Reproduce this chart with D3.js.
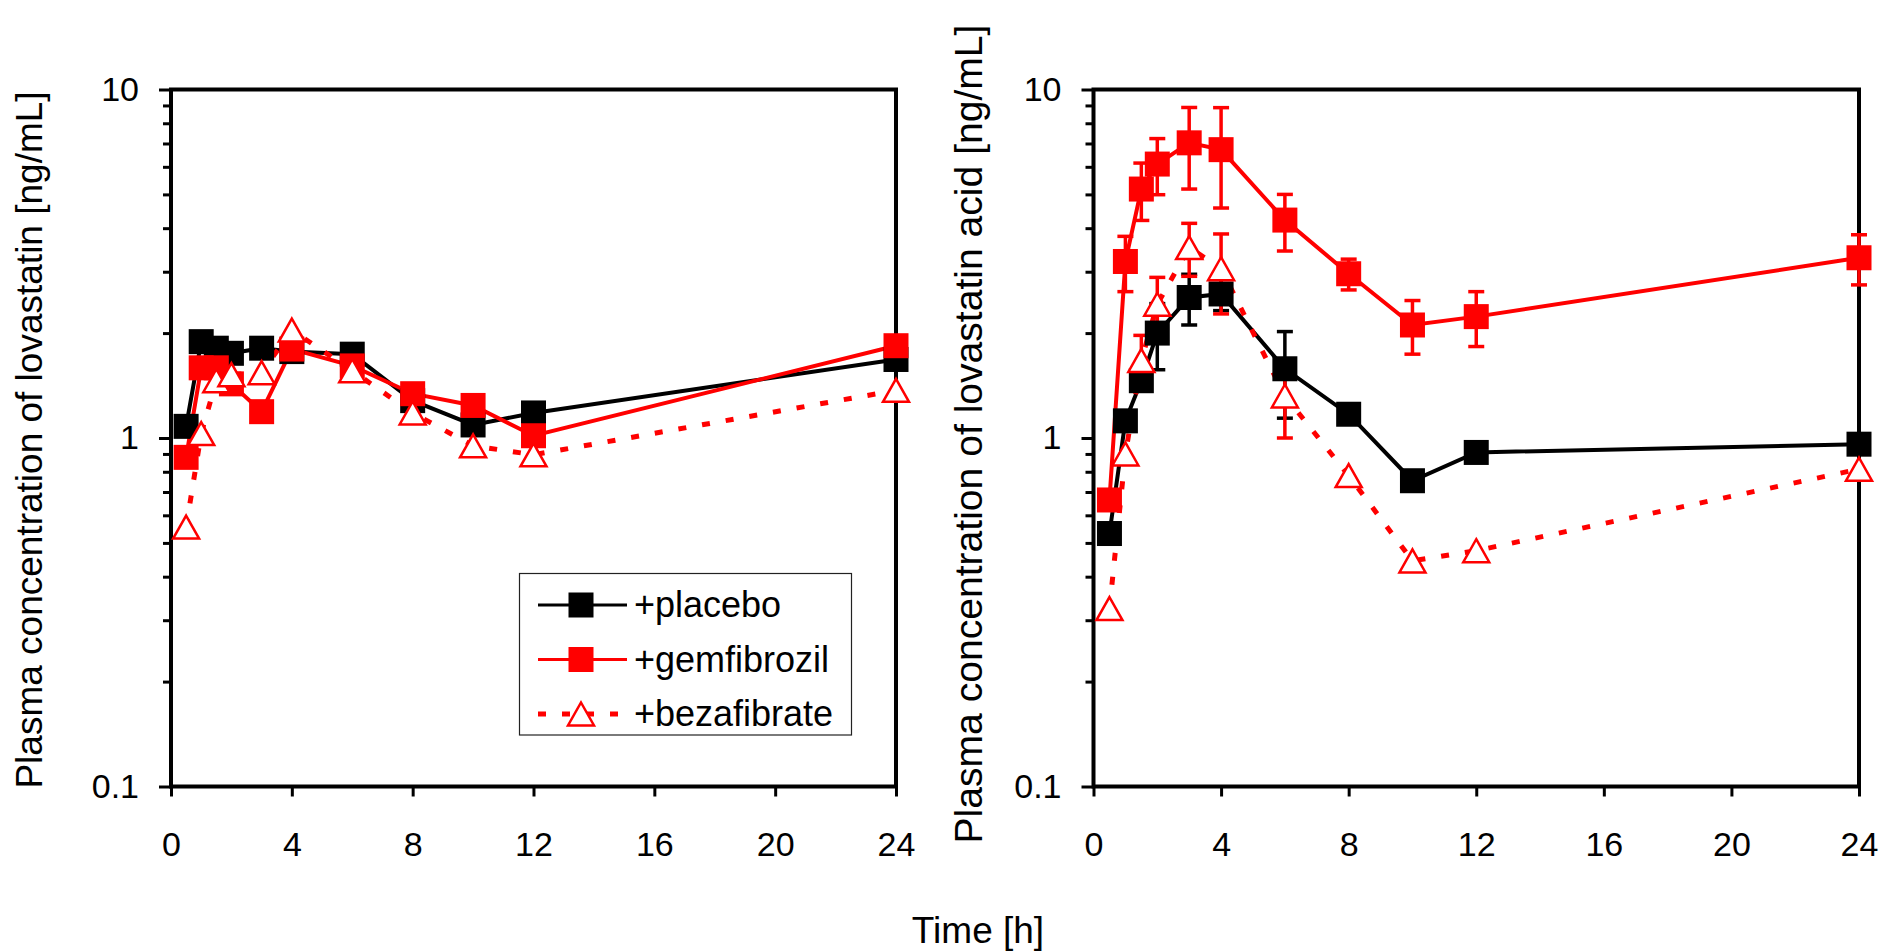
<!DOCTYPE html>
<html>
<head>
<meta charset="utf-8">
<script src="https://cdn.jsdelivr.net/npm/d3@7"></script>
<style>
  body { margin: 0; background: #fff; }
  svg { display: block; font-family: Arial, "Liberation Sans", sans-serif; }
</style>
</head>
<body>
<div class="container"></div>
<script>
const width = 1884;
const height = 951;

// sampling times [h]
const times = [0.5, 1, 1.5, 2, 3, 4, 6, 8, 10, 12, 24];
const xTicks = [0, 4, 8, 12, 16, 20, 24];
const yMajor = [0.1, 1, 10];
const seriesNames = ["+placebo", "+gemfibrozil", "+bezafibrate"];

// lovastatin [ng/mL]
const lovaPlacebo     = [1.08, 1.89, 1.81, 1.75, 1.81, 1.77, 1.74, 1.28, 1.09, 1.18, 1.68];
const lovaGemfibrozil = [0.88, 1.59, 1.59, 1.43, 1.19, 1.80, 1.61, 1.34, 1.24, 1.015, 1.84];
const lovaBezafibrate = [0.555, 1.03, 1.46, 1.52, 1.54, 2.04, 1.56, 1.18, 0.95, 0.895, 1.37];

// lovastatin acid [ng/mL] and SD (0 = no bar drawn)
const acidPlacebo       = [0.532, 1.12, 1.46, 2.0, 2.53, 2.59, 1.58, 1.17, 0.754, 0.909, 0.96];
const acidPlaceboSD     = [0, 0, 0, 0.43, 0.42, 0.27, 0.44, 0, 0, 0, 0];
const acidGemfibrozil   = [0.664, 3.21, 5.18, 6.11, 7.03, 6.72, 4.22, 2.96, 2.11, 2.23, 3.29];
const acidGemfibrozilSD = [0, 0.58, 0.97, 1.12, 1.85, 2.15, 0.78, 0.3, 0.37, 0.4, 0.54];
const acidBezafibrate   = [0.324, 0.90, 1.67, 2.42, 3.52, 3.06, 1.32, 0.78, 0.444, 0.475, 0.814];
const acidBezafibrateSD = [0, 0, 0.30, 0.47, 0.61, 0.79, 0.32, 0, 0, 0, 0];

const styles = [
  { color: "#000", dash: null, marker: "square" },
  { color: "#ff0000", dash: null, marker: "square" },
  { color: "#ff0000", dash: "8,16", marker: "triangle" }
];

const panels = [
  {
    left: 171, right: 896, top: 89.5, bottom: 786.5,
    title: "Plasma concentration of lovastatin [ng/mL]",
    titleX: 42, titleY: 440, titleSize: 37,
    series: [lovaPlacebo, lovaGemfibrozil, lovaBezafibrate],
    sd: [null, null, null],
    legend: true
  },
  {
    left: 1093.5, right: 1859, top: 89.5, bottom: 786.5,
    title: "Plasma concentration of lovastatin acid [ng/mL]",
    titleX: 982, titleY: 434, titleSize: 39.1,
    series: [acidPlacebo, acidGemfibrozil, acidBezafibrate],
    sd: [acidPlaceboSD, acidGemfibrozilSD, acidBezafibrateSD],
    legend: false
  }
];

const svg = d3.select(".container")
  .append("svg")
  .attr("width", width)
  .attr("height", height);

svg.append("rect").attr("width", width).attr("height", height).attr("fill", "#fff");

const triangle = "M0,-11.5L13,11.5L-13,11.5Z";

const drawMarker = (g, style, x, y) => {
  if (style.marker === "square") {
    g.append("rect")
      .attr("x", x - 12.5).attr("y", y - 12.5)
      .attr("width", 25).attr("height", 25)
      .attr("fill", style.color);
  } else {
    g.append("path")
      .attr("d", triangle)
      .attr("transform", `translate(${x},${y})`)
      .attr("fill", "#fff")
      .attr("stroke", style.color)
      .attr("stroke-width", 2.5);
  }
};

panels.forEach(p => {
  const x = d3.scaleLinear().domain([0, 24]).range([p.left, p.right]);
  const y = d3.scaleLog().domain([0.1, 10]).range([p.bottom, p.top]);

  const g = svg.append("g");

  // minor log ticks
  const minor = [];
  [0.1, 1].forEach(d => { for (let k = 2; k <= 9; k++) minor.push(d * k); });

  g.append("g")
    .attr("transform", `translate(${p.left},0)`)
    .call(d3.axisLeft(y).tickValues(minor).tickSize(8).tickFormat(""))
    .call(a => a.select(".domain").remove())
    .call(a => a.selectAll("line").attr("stroke-width", 3));

  g.append("g")
    .attr("transform", `translate(${p.left},0)`)
    .call(d3.axisLeft(y).tickValues(yMajor).tickSize(12).tickPadding(20).tickFormat(d => d))
    .call(a => a.select(".domain").remove())
    .call(a => a.selectAll("line").attr("stroke-width", 3))
    .call(a => a.selectAll("text").attr("font-size", 34).attr("font-family", null).attr("fill", "#000"));

  g.append("g")
    .attr("transform", `translate(0,${p.bottom})`)
    .call(d3.axisBottom(x).tickValues(xTicks).tickSize(10).tickPadding(35))
    .call(a => a.select(".domain").remove())
    .call(a => a.selectAll("line").attr("stroke-width", 3))
    .call(a => a.selectAll("text").attr("font-size", 34).attr("font-family", null).attr("fill", "#000"));

  // frame
  g.append("rect")
    .attr("x", p.left).attr("y", p.top)
    .attr("width", p.right - p.left).attr("height", p.bottom - p.top)
    .attr("fill", "none").attr("stroke", "#000").attr("stroke-width", 4);

  g.append("text")
    .attr("transform", `translate(${p.titleX},${p.titleY}) rotate(-90)`)
    .attr("text-anchor", "middle")
    .attr("font-size", p.titleSize)
    .text(p.title);

  // error bars
  p.series.forEach((vals, i) => {
    const sd = p.sd[i];
    if (!sd) return;
    const bars = g.append("g").attr("stroke", styles[i].color).attr("stroke-width", 3.5);
    times.forEach((t, j) => {
      if (!sd[j]) return;
      const cx = x(t), y0 = y(vals[j] - sd[j]), y1 = y(vals[j] + sd[j]);
      bars.append("line").attr("x1", cx).attr("x2", cx).attr("y1", y0).attr("y2", y1);
      bars.append("line").attr("x1", cx - 8).attr("x2", cx + 8).attr("y1", y0).attr("y2", y0);
      bars.append("line").attr("x1", cx - 8).attr("x2", cx + 8).attr("y1", y1).attr("y2", y1);
    });
  });

  const line = d3.line().x((d, j) => x(times[j])).y(d => y(d));

  p.series.forEach((vals, i) => {
    g.append("path")
      .attr("d", line(vals))
      .attr("fill", "none")
      .attr("stroke", styles[i].color)
      .attr("stroke-width", styles[i].dash ? 5 : 4)
      .attr("stroke-dasharray", styles[i].dash);
  });

  p.series.forEach((vals, i) => {
    const mg = g.append("g");
    vals.forEach((v, j) => drawMarker(mg, styles[i], x(times[j]), y(v)));
  });

  if (p.legend) {
    const lg = svg.append("g");
    lg.append("rect")
      .attr("x", 519.5).attr("y", 573.5).attr("width", 332).attr("height", 161.5)
      .attr("fill", "#fff").attr("stroke", "#222").attr("stroke-width", 1.2);
    seriesNames.forEach((name, i) => {
      const cy = 605 + i * 54.5;
      lg.append("line")
        .attr("x1", 538).attr("x2", 627).attr("y1", cy).attr("y2", cy)
        .attr("stroke", styles[i].color).attr("stroke-width", styles[i].dash ? 5 : 3)
        .attr("stroke-dasharray", styles[i].dash);
      drawMarker(lg, styles[i], 581, cy);
      lg.append("text")
        .attr("x", 634).attr("y", cy + 12)
        .attr("font-size", 36)
        .text(name);
    });
  }
});

svg.append("text")
  .attr("x", 978).attr("y", 943)
  .attr("text-anchor", "middle")
  .attr("font-size", 37)
  .text("Time [h]");
</script>
</body>
</html>
